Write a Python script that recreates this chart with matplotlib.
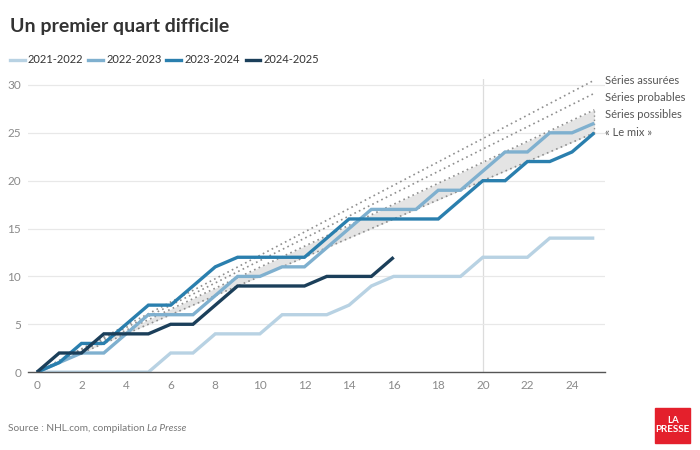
import matplotlib
matplotlib.use("Agg")
import matplotlib.pyplot as plt
from matplotlib.lines import Line2D
from matplotlib.patches import Rectangle

plt.rcParams['font.family'] = ['Lato', 'DejaVu Sans']

# matchs joues
matchs = list(range(26))

saisons = ["2021-2022", "2022-2023", "2023-2024", "2024-2025"]
couleurs = ["#b8d2e3", "#7fb0cf", "#2a7fae", "#1b3f5a"]

pts_2122 = [0, 0, 0, 0, 0, 0, 2, 2, 4, 4, 4, 6, 6, 6, 7, 9, 10, 10, 10, 10, 12, 12, 12, 14, 14, 14]
pts_2223 = [0, 1, 2, 2, 4, 6, 6, 6, 8, 10, 10, 11, 11, 13, 15, 17, 17, 17, 19, 19, 21, 23, 23, 25, 25, 26]
pts_2324 = [0, 1, 3, 3, 5, 7, 7, 9, 11, 12, 12, 12, 12, 14, 16, 16, 16, 16, 16, 18, 20, 20, 22, 22, 23, 25]
pts_2425 = [0, 2, 2, 4, 4, 4, 5, 5, 7, 9, 9, 9, 9, 10, 10, 10, 12]

# rythmes (points par match)
scenarios = ["Séries assurées", "Séries probables", "Séries possibles", "« Le mix »"]
rythmes = [1.22, 1.165, 1.096, 1.0]
label_y = [30.5, 28.7, 26.9, 25.0]

fig = plt.figure(figsize=(7, 4.5), dpi=100)
ax = fig.add_axes([0.04, 0.173, 0.824, 0.651])

# zone entre "possibles" et "le mix"
x_fin = 25
ax.fill_between([0, x_fin], [0, rythmes[2] * x_fin], [0, rythmes[3] * x_fin],
                color="#e4e4e4", lw=0, zorder=1)
for r in rythmes:
    ax.plot([0, x_fin], [0, r * x_fin], color="#8f8f8f", lw=1.2,
            ls=(0, (1, 2)), zorder=2)
ax.plot([x_fin, x_fin], [rythmes[3] * x_fin, rythmes[2] * x_fin],
        color="#8f8f8f", lw=1.0, ls=(0, (1, 2)), zorder=2)

ax.axvline(20, color="#dcdcdc", lw=0.9, zorder=0.5)

series = [pts_2122, pts_2223, pts_2324, pts_2425]
for s, c in zip(series, couleurs):
    ax.plot(matchs[:len(s)], s, color=c, lw=2.4, solid_joinstyle="miter",
            solid_capstyle="butt", zorder=3)

for nom, y in zip(scenarios, label_y):
    ax.text(25.5, y, nom, fontsize=8, color="#555555", va="center", ha="left",
            clip_on=False)

ax.set_xlim(-0.4, 25.47)
ax.set_ylim(0, 30.6)
ax.set_xticks(range(0, 25, 2))
ax.set_yticks(range(0, 31, 5))
ax.grid(axis="y", color="#e8e8e8", lw=0.9, zorder=0)
ax.set_axisbelow(True)
for sp in ["top", "right", "left"]:
    ax.spines[sp].set_visible(False)
ax.spines["bottom"].set_color("#555555")
ax.spines["bottom"].set_linewidth(1.0)
ax.spines["bottom"].set_zorder(4)
ax.tick_params(length=0, colors="#8a8a8a", labelsize=8.5)
ax.tick_params(axis="x", pad=6)
ax.tick_params(axis="y", pad=5)

fig.text(0.014, 0.942, "Un premier quart difficile", fontsize=14, fontweight="bold",
         color="#333333", va="center", ha="left")

# legende
leg_x = [0.014, 0.126, 0.237, 0.351]
for nom, c, x0 in zip(saisons, couleurs, leg_x):
    fig.add_artist(Line2D([x0, x0 + 0.021], [0.867, 0.867], color=c, lw=2.4,
                          transform=fig.transFigure))
    fig.text(x0 + 0.026, 0.867, nom, fontsize=8, color="#333333",
             va="center", ha="left")

src = fig.text(0.011, 0.048, "Source : NHL.com, compilation ", fontsize=7.3,
               color="#777777", va="center", ha="left")
fig.canvas.draw()
bb = src.get_window_extent().transformed(fig.transFigure.inverted())
fig.text(bb.x1, 0.048, "La Presse", fontsize=7.3, color="#777777", va="center",
         ha="left", style="italic")

# logo
fig.add_artist(Rectangle((0.936, 0.016), 0.05, 0.078, color="#e4202c",
                         transform=fig.transFigure))
fig.text(0.961, 0.055, "LA\nPRESSE", fontsize=7, color="white", fontweight="bold",
         ha="center", va="center", linespacing=0.95)

fig.savefig("out.png", dpi=100)
